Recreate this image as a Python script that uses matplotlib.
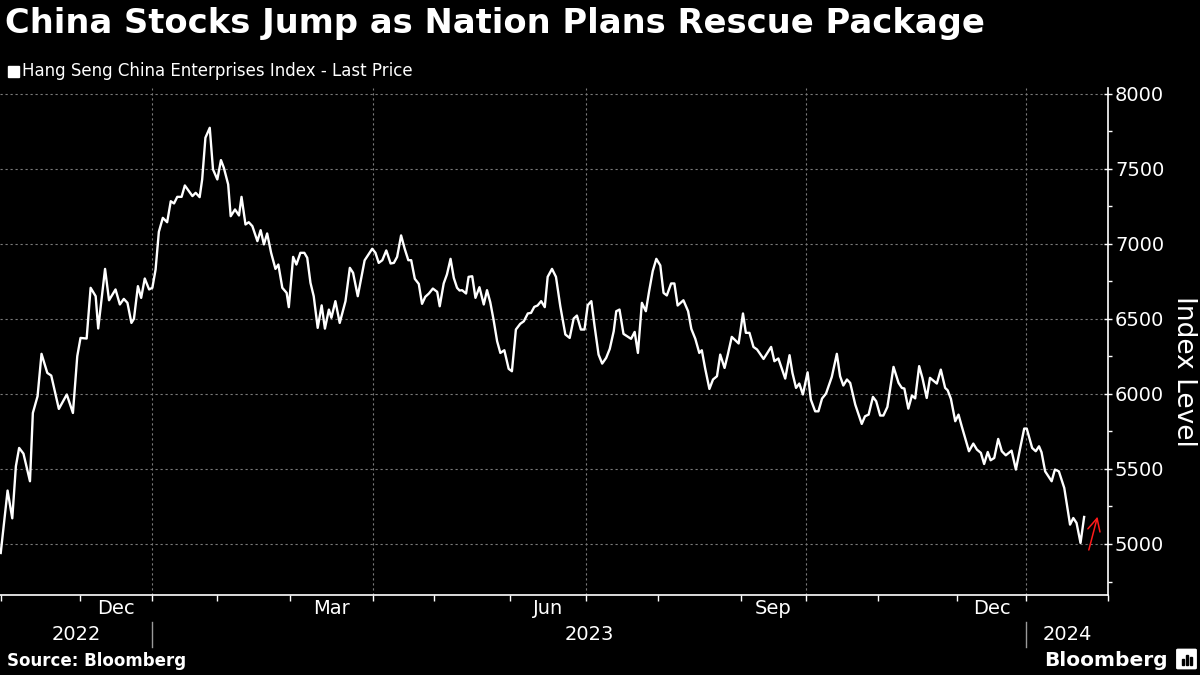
import numpy as np
import matplotlib.pyplot as plt
from matplotlib.patches import FancyBboxPatch, Rectangle
import matplotlib.transforms as mtransforms

# trading sessions per month, Nov 2022 .. Jan 2024
months = ['Nov', 'Dec', 'Jan', 'Feb', 'Mar', 'Apr', 'May', 'Jun', 'Jul',
          'Aug', 'Sep', 'Oct', 'Nov', 'Dec', 'Jan']
sessions = [22, 20, 18, 20, 23, 17, 21, 21, 20, 23, 18, 20, 22, 19, 23]
labelled = [1, 4, 7, 10, 13]          # Dec, Mar, Jun, Sep, Dec
quarter_starts = [2, 5, 8, 11, 14]    # Jan, Apr, Jul, Oct, Jan
years = ['2022', '2023', '2024']

# session number (from 1 Nov 2022) and index level
day = [0.0, 1.9, 3.2, 4.2, 5.1, 6.3, 8.1, 8.9, 10.2, 11.3, 12.9, 14.0, 16.1,
       18.3, 20.0, 21.2, 22.1, 23.8, 24.9, 26.3, 27.0, 28.9, 30.0, 31.8, 33.0,
       34.1, 35.1, 36.2, 36.9, 38.0, 38.9, 39.9, 41.1, 42.0, 42.9, 43.8, 44.9,
       46.1, 47.1, 48.0, 48.9, 50.1, 51.0, 53.1, 54.0, 55.1, 55.8, 56.7, 57.9,
       58.8, 60.0, 61.0, 61.8, 63.0, 63.7, 64.9, 66.0, 66.7, 67.8, 68.7, 69.7,
       71.1, 72.0, 72.9, 73.8, 74.9, 76.1, 76.9, 78.0, 79.2, 79.8, 81.0, 81.9,
       83.0, 84.1, 84.9, 85.8, 86.7, 87.8, 88.9, 89.8, 90.9, 91.6, 92.7, 93.9,
       95.5, 96.7, 97.6, 98.9, 100.8, 102.9, 103.8, 104.7, 105.7, 106.8, 108.0,
       108.9, 109.8, 110.9, 111.9, 112.9, 113.7, 114.7, 115.8, 116.7, 117.6,
       118.6, 119.7, 120.9, 121.6, 122.7, 123.6, 124.6, 125.5, 126.4, 127.1,
       127.8, 128.9, 129.6, 130.6, 131.5, 132.6, 133.8, 134.7, 135.6, 136.5,
       137.5, 138.4, 139.5, 140.7, 141.6, 142.7, 143.9, 144.9, 146.0, 146.9,
       147.8, 148.7, 149.7, 150.7, 151.5, 152.7, 153.8, 155.0, 156.4, 157.6,
       158.7, 159.6, 160.7, 161.7, 162.6, 163.6, 164.5, 165.6, 166.6, 167.7,
       168.7, 169.8, 170.5, 171.4, 172.5, 173.5, 174.6, 175.6, 176.5, 177.6,
       178.7, 179.6, 180.6, 181.6, 182.7, 183.6, 184.5, 185.7, 186.6, 187.5,
       189.1, 190.4, 191.3, 192.4, 193.5, 194.2, 195.1, 196.3, 197.3, 198.4,
       199.3, 200.5, 201.4, 202.5, 204.4, 205.6, 206.4, 207.4, 208.5, 209.5,
       211.3, 213.4, 214.3, 215.4, 217.3, 218.5, 219.3, 220.3, 221.2, 222.2,
       223.5, 224.4, 225.6, 226.5, 227.5, 228.6, 230.2, 231.6, 232.5, 233.4,
       234.4, 235.3, 236.7, 238.5, 239.4, 240.4, 241.6, 242.5, 243.6, 244.5,
       245.6, 247.3, 248.7, 249.6, 250.3, 251.4, 252.4, 253.3, 254.4, 255.3,
       256.5, 257.4, 259.3, 260.4, 261.6, 262.3, 263.2, 264.4, 265.3, 266.2,
       268.2, 269.4, 270.4, 271.5, 272.4, 273.4, 274.2, 275.2, 276.3, 277.3,
       278.4, 280.0, 281.2, 282.3, 283.5, 284.2, 285.7, 286.7, 287.6, 288.3,
       289.3, 291.1, 292.0, 293.1, 294.6, 295.4, 296.2, 297.1, 298.0, 299.1,
       300.1]
price = [4940, 5356, 5171, 5518, 5640, 5602, 5418, 5873, 5984, 6267, 6140, 6122,
         5900, 5996, 5873, 6251, 6373, 6369, 6707, 6651, 6436, 6833, 6624, 6696,
         6596, 6633, 6607, 6473, 6500, 6718, 6640, 6769, 6696, 6707, 6829, 7080,
         7173, 7144, 7284, 7269, 7313, 7313, 7389, 7318, 7340, 7311, 7429, 7707,
         7773, 7496, 7429, 7558, 7507, 7396, 7184, 7229, 7189, 7313, 7129, 7144,
         7118, 7018, 7091, 6996, 7069, 6940, 6833, 6862, 6707, 6673, 6578, 6913,
         6862, 6940, 6940, 6907, 6740, 6651, 6440, 6590, 6435, 6562, 6507, 6618,
         6473, 6618, 6840, 6807, 6651, 6890, 6967, 6940, 6873, 6891, 6956, 6869,
         6873, 6913, 7056, 6967, 6891, 6891, 6767, 6733, 6600, 6647, 6669, 6702,
         6680, 6584, 6736, 6796, 6900, 6773, 6707, 6689, 6691, 6669, 6780, 6784,
         6640, 6711, 6596, 6691, 6611, 6496, 6351, 6273, 6291, 6167, 6151, 6429,
         6467, 6484, 6536, 6540, 6580, 6589, 6618, 6578, 6780, 6833, 6780, 6584,
         6396, 6373, 6502, 6522, 6429, 6429, 6591, 6618, 6451, 6262, 6202, 6240,
         6300, 6418, 6551, 6562, 6400, 6384, 6367, 6413, 6273, 6607, 6551, 6684,
         6818, 6900, 6856, 6673, 6656, 6736, 6736, 6589, 6624, 6551, 6433, 6367,
         6273, 6291, 6173, 6033, 6096, 6118, 6262, 6173, 6262, 6380, 6336, 6536,
         6407, 6407, 6313, 6296, 6233, 6313, 6218, 6236, 6102, 6258, 6140, 6040,
         6069, 5996, 6144, 5962, 5884, 5884, 5969, 6002, 6113, 6267, 6118, 6056,
         6096, 6073, 5929, 5800, 5851, 5862, 5980, 5951, 5856, 5856, 5913, 6180,
         6073, 6040, 6036, 5902, 5989, 5970, 6185, 6107, 5973, 6107, 6069, 6162,
         6040, 6024, 5967, 5818, 5862, 5784, 5618, 5669, 5629, 5607, 5533, 5613,
         5558, 5573, 5700, 5618, 5591, 5622, 5496, 5629, 5769, 5769, 5640, 5618,
         5651, 5611, 5484, 5418, 5496, 5484, 5373, 5251, 5129, 5173, 5140, 5007,
         5180]

bounds = np.concatenate([[0], np.cumsum(sessions)])
x_max = 306.7

fig = plt.figure(figsize=(12, 6.75), dpi=100, facecolor='black')
ax = fig.add_axes([0.0, 0.1185, 0.9233, 0.7515], facecolor='black')

ax.plot(day, price, color='white', lw=1.7, solid_joinstyle='round')

# red arrow
ax.annotate('', xy=(304.0, 5200), xytext=(301.2, 4942),
            arrowprops=dict(arrowstyle='->,head_length=0.9,head_width=0.45',
                            color='#ff1a1a', lw=1.1))

ax.set_xlim(-0.2, x_max)
ax.set_ylim(4660, 8040)

grid_kw = dict(color='#7a7a7a', lw=0.8, linestyle=(0, (2, 2.5)), zorder=0)
for v in range(5000, 8001, 500):
    ax.axhline(v, **grid_kw)
for q in quarter_starts:
    ax.axvline(bounds[q], **grid_kw)

for s in ['top', 'left']:
    ax.spines[s].set_visible(False)
for s in ['bottom', 'right']:
    ax.spines[s].set_color('white')
    ax.spines[s].set_linewidth(1.2)

# y axis on the right
ax.yaxis.tick_right()
ax.set_yticks(range(5000, 8001, 500))
ax.set_yticks(range(4750, 8001, 250), minor=True)
ax.tick_params(axis='y', which='major', direction='inout', length=6, width=1,
               colors='white', labelsize=14, pad=2)
ax.tick_params(axis='y', which='minor', direction='out', length=3, width=1,
               colors='white')

# x axis: ticks at month boundaries, labels mid-month
ax.set_xticks(list(bounds[:-1]) + [x_max])
ax.set_xticklabels([])
mids = [(bounds[i] + bounds[i + 1]) / 2 for i in labelled]
ax.set_xticks(mids, [months[i] for i in labelled], minor=True)
ax.tick_params(axis='x', which='major', direction='out', length=4, width=1,
               colors='white')
ax.tick_params(axis='x', which='minor', length=0, labelsize=14,
               labelcolor='white', pad=3)

# year labels and separators
trans = mtransforms.blended_transform_factory(ax.transData, ax.transAxes)
year_edges = [0, bounds[2], bounds[14], x_max]
for i, yr in enumerate(years):
    ax.text((year_edges[i] + year_edges[i + 1]) / 2, -0.077, yr,
            transform=trans, ha='center', va='center', color='white',
            fontsize=14)
for e in year_edges[1:3]:
    ax.plot([e, e], [-0.053, -0.103], transform=trans, color='#9a9a9a',
            lw=1, clip_on=False)

fig.text(0.987, 1 - 371 / 675, 'Index Level', rotation=270, ha='center',
         va='center', color='white', fontsize=19)

fig.text(0.004, 1 - 24 / 675, 'China Stocks Jump as Nation Plans Rescue Package',
         ha='left', va='center', color='white', fontsize=24.3, fontweight='bold')
fig.patches.append(Rectangle((8 / 1200, 1 - 77 / 675), 11 / 1200, 11 / 675,
                             transform=fig.transFigure, color='white'))
fig.text(22 / 1200, 1 - 71 / 675, 'Hang Seng China Enterprises Index - Last Price',
         ha='left', va='center', color='white', fontsize=12)

fig.text(0.006, 1 - 661 / 675, 'Source: Bloomberg', ha='left', va='center',
         color='white', fontsize=12, fontweight='bold')
fig.text(1168 / 1200, 1 - 660 / 675, 'Bloomberg', ha='right', va='center',
         color='white', fontsize=14.5, fontweight='bold')
fig.patches.append(FancyBboxPatch((1178 / 1200, 1 - 668 / 675), 17 / 1200, 18 / 675,
                                  boxstyle='round,pad=0.001',
                                  transform=fig.transFigure, color='white'))
for bx, bh in [(1182, 6), (1186, 10), (1190, 8)]:
    fig.patches.append(Rectangle((bx / 1200, 1 - 665 / 675), 2 / 1200, bh / 675,
                                 transform=fig.transFigure, color='black'))

fig.savefig('out.png', dpi=100, facecolor='black')
